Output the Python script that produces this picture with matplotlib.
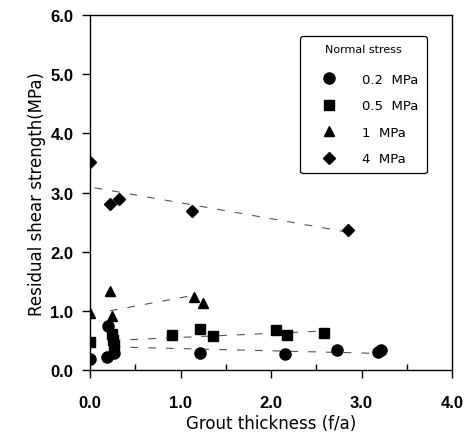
import matplotlib
matplotlib.use("Agg")
import matplotlib.pyplot as plt
from matplotlib.ticker import MultipleLocator

plt.rcParams['font.family'] = ['DejaVu Sans']

# ---- data ----
x_02 = [0.00, 0.19, 0.27, 0.20, 1.21, 2.15, 2.73, 3.18, 3.22]
y_02 = [0.19, 0.22, 0.29, 0.74, 0.29, 0.27, 0.33, 0.31, 0.34]

x_05 = [0.00, 0.26, 0.25, 0.24, 0.91, 1.22, 1.36, 2.06, 2.18, 2.59]
y_05 = [0.47, 0.42, 0.51, 0.61, 0.60, 0.70, 0.57, 0.68, 0.59, 0.63]

x_1 = [0.00, 0.24, 0.22, 1.15, 1.25]
y_1 = [0.97, 0.91, 1.33, 1.24, 1.13]

x_4 = [0.00, 0.22, 0.32, 1.13, 2.85]
y_4 = [3.51, 2.80, 2.89, 2.68, 2.36]

# trend lines (end points)
trend_x_02 = [0.25, 3.20]
trend_y_02 = [0.39, 0.28]
trend_x_05 = [0.25, 2.60]
trend_y_05 = [0.50, 0.66]
trend_x_1 = [0.22, 1.10]
trend_y_1 = [1.00, 1.25]
trend_x_4 = [0.05, 2.85]
trend_y_4 = [3.08, 2.33]

labels = ['0.2  MPa', '0.5  MPa', '1  MPa', '4  MPa']
x_ticks = [0.0, 1.0, 2.0, 3.0, 4.0]
y_ticks = [0.0, 1.0, 2.0, 3.0, 4.0, 5.0, 6.0]

fig = plt.figure(figsize=(4.69, 4.39), dpi=100)
ax = fig.add_axes([90/469, 1-371/439, 362/469, 355/439])

trend_style = dict(color='#555555', lw=0.8, linestyle=(0, (7, 9)))
ax.plot(trend_x_02, trend_y_02, **trend_style)
ax.plot(trend_x_05, trend_y_05, **trend_style)
ax.plot(trend_x_1, trend_y_1, **trend_style)
ax.plot(trend_x_4, trend_y_4, **trend_style)

h1, = ax.plot(x_02, y_02, 'o', color='black', ms=8, ls='none', label=labels[0])
h2, = ax.plot(x_05, y_05, 's', color='black', ms=7.8, ls='none', label=labels[1])
h3, = ax.plot(x_1, y_1, '^', color='black', ms=7.8, ls='none', label=labels[2])
h4, = ax.plot(x_4, y_4, 'D', color='black', ms=6.2, ls='none', label=labels[3])

ax.set_xlim(0, 4)
ax.set_ylim(0, 6)
ax.set_xticks(x_ticks)
ax.set_yticks(y_ticks)
tick_font = dict(fontsize=12, fontweight='bold', family=['Liberation Sans', 'DejaVu Sans'])
ax.set_xticklabels([f'{v:.1f}' for v in x_ticks], **tick_font)
ax.set_yticklabels([f'{v:.1f}' for v in y_ticks], **tick_font)
ax.xaxis.set_minor_locator(MultipleLocator(0.5))
ax.tick_params(axis='x', which='major', direction='out', length=6, width=1, pad=12)
ax.tick_params(axis='x', which='minor', direction='in', length=4, width=1)
ax.tick_params(axis='y', which='major', direction='out', length=6, width=1, pad=6)
for s in ax.spines.values():
    s.set_linewidth(1.0)

ax.set_xlabel('Grout thickness (f/a)', fontsize=12, labelpad=3)
ax.set_ylabel('Residual shear strength(MPa)', fontsize=12, labelpad=3)

leg = ax.legend(handles=[h1, h2, h3, h4], title='Normal stress',
                loc='upper left', bbox_to_anchor=((300-90)/362, (371-37)/355),
                borderaxespad=0, fontsize=9.5, title_fontsize=8,
                frameon=True, fancybox=True, edgecolor='black', framealpha=1,
                borderpad=0.62, handlelength=3.2, handletextpad=0.88,
                labelspacing=1.02, markerscale=1.0)
leg.get_frame().set_linewidth(0.9)
leg._legend_box.sep = 13.5

fig.savefig('out.png', dpi=100)
